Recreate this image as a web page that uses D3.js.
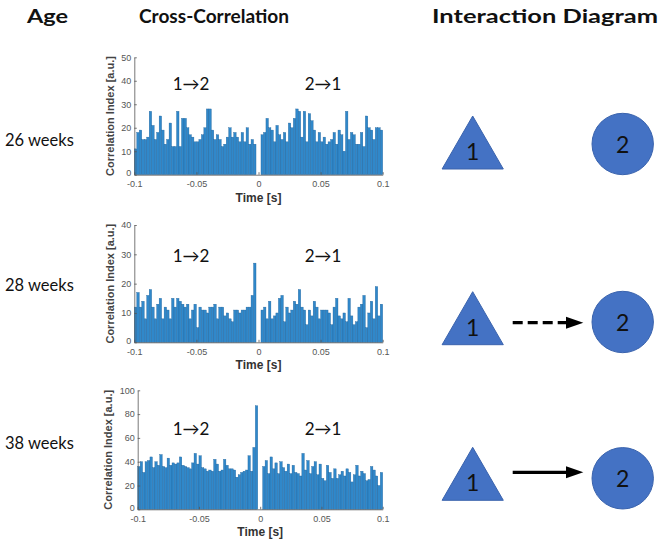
<!DOCTYPE html>
<html>
<head>
<meta charset="utf-8">
<script src="https://cdn.jsdelivr.net/npm/d3@7"></script>
<style>
  body { margin: 0; background: #fff; }
  svg { display: block; }
</style>
</head>
<body>
<div id="chart"></div>
<script>
// column headers and row labels
let headers = ["Age", "Cross-Correlation", "Interaction Diagram"];
let ages = ["26 weeks", "28 weeks", "38 weeks"];
let dirLabels = ["1\u21922", "2\u21921"];

// histogram bins: 100 bins of 2 ms from -0.1 s to 0.1 s
let binStart = -0.1;
let binWidth = 0.002;
let xTicks = [-0.1, -0.05, 0, 0.05, 0.1];
let xTickLabels = ["-0.1", "-0.05", "0", "0.05", "0.1"];

let yTicks26 = [0, 10, 20, 30, 40, 50];
let yTicks28 = [0, 10, 20, 30, 40];
let yTicks38 = [0, 20, 40, 60, 80, 100];

// correlation index per bin
let counts26 = [
  11, 18, 19, 15, 15, 16, 27, 21, 15, 18, 25, 19, 13, 15, 22, 12, 12, 27, 12, 24,
  24, 20, 17, 16, 14, 14, 15, 17, 20, 28, 28, 19, 15, 17, 15, 12, 13, 16, 20, 16,
  18, 16, 14, 18, 14, 20, 13, 15, 13, 0,
  0, 17, 18, 24, 20, 19, 14, 21, 17, 15, 18, 14, 22, 20, 24, 28, 27, 16, 27, 14,
  26, 23, 19, 14, 18, 14, 16, 13, 14, 15, 18, 13, 19, 17, 10, 27, 15, 18, 17, 13,
  13, 18, 12, 25, 20, 19, 15, 20, 20, 19
];
let counts28 = [
  12, 17, 12, 14, 8, 16, 18, 12, 8, 13, 15, 8, 12, 11, 8, 15, 12, 15, 14, 13,
  12, 13, 8, 11, 13, 5, 12, 11, 11, 10, 12, 12, 13, 8, 12, 12, 9, 10, 8, 7,
  11, 11, 10, 11, 11, 12, 12, 16, 27, 0,
  0, 11, 12, 8, 14, 8, 9, 10, 15, 16, 7, 12, 10, 11, 14, 13, 18, 12, 11, 6,
  11, 9, 14, 12, 8, 11, 11, 11, 10, 6, 12, 15, 9, 8, 10, 7, 15, 9, 6, 7,
  12, 13, 16, 5, 10, 14, 8, 19, 9, 13
];
let counts38 = [
  36, 40, 31, 40, 41, 44, 35, 40, 37, 46, 36, 35, 43, 37, 39, 38, 39, 44, 37, 36,
  35, 34, 39, 47, 38, 45, 35, 34, 32, 33, 32, 42, 38, 32, 33, 42, 37, 34, 34, 33,
  27, 29, 31, 32, 33, 45, 32, 52, 87, 0,
  0, 36, 41, 30, 44, 34, 39, 30, 40, 35, 32, 38, 30, 37, 31, 30, 28, 47, 33, 41,
  30, 36, 40, 29, 38, 26, 24, 37, 31, 26, 34, 26, 29, 32, 28, 34, 31, 23, 29, 37,
  28, 32, 30, 24, 25, 36, 33, 28, 20, 31
];

// interaction from 1 to 2: none, weak (dashed), strong (solid)
let links = ["none", "weak", "strong"];

let W = 665, H = 540;
let svg = d3.select("#chart").append("svg")
  .attr("width", W).attr("height", H);

let headFont = "Lato, 'Open Sans', sans-serif";
let axFont = "'Liberation Sans', Arial, sans-serif";

// headers (the source picture is a little stretched sideways)
let headerX = [27, 139, 432];
let headerW = [41, 150, 226];
svg.selectAll("text.header")
  .data(headers)
  .enter().append("text")
  .attr("class", "header")
  .attr("x", (d, i) => headerX[i])
  .attr("y", 23)
  .attr("font-family", headFont)
  .attr("font-weight", "bold")
  .attr("font-size", 18)
  .attr("textLength", (d, i) => headerW[i])
  .attr("lengthAdjust", "spacingAndGlyphs")
  .attr("fill", "#111")
  .text(d => d);

// panel layout (pixels)
let panels = [
  { counts: counts26, ticks: yTicks26, x0: 134.3, x1: 382.7, yTop: 57.3, yBot: 174.7, ylabX: 110,
    labelY: 90, ageY: 146, triY: 147, cy: 144, arrowY: 144 },
  { counts: counts28, ticks: yTicks28, x0: 134.3, x1: 382.7, yTop: 225, yBot: 342.3, ylabX: 110,
    labelY: 262, ageY: 291, triY: 322.7, cy: 322, arrowY: 322.7 },
  { counts: counts38, ticks: yTicks38, x0: 137.7, x1: 382.7, yTop: 390.3, yBot: 509.3, ylabX: 108,
    labelY: 435, ageY: 449, triY: 478.3, cy: 478.3, arrowY: 472.3 }
];

panels.forEach(function(p, k) {
  let yMax = p.ticks[p.ticks.length - 1];
  let x = d3.scaleLinear().domain([-0.1, 0.1]).range([p.x0, p.x1]);
  let y = d3.scaleLinear().domain([0, yMax]).range([p.yBot, p.yTop]);

  let g = svg.append("g");

  // bars
  g.selectAll("rect")
    .data(p.counts)
    .enter().append("rect")
    .attr("x", (d, i) => x(binStart + i * binWidth))
    .attr("width", (d, i) => x(binStart + (i + 1) * binWidth) - x(binStart + i * binWidth))
    .attr("y", d => y(d))
    .attr("height", d => y(0) - y(d))
    .attr("fill", "#3088ca")
    .attr("stroke", "#1f6199")
    .attr("stroke-width", 0.35);

  // axes (MATLAB style, ticks inward)
  let xa = g.append("g")
    .attr("transform", "translate(0," + p.yBot + ")")
    .call(d3.axisBottom(x).tickValues(xTicks)
      .tickFormat((d, i) => xTickLabels[i])
      .tickSizeInner(-2.5).tickSizeOuter(0).tickPadding(6));
  let ya = g.append("g")
    .attr("transform", "translate(" + p.x0 + ",0)")
    .call(d3.axisLeft(y).tickValues(p.ticks)
      .tickSizeInner(-2.5).tickSizeOuter(0).tickPadding(3));
  [xa, ya].forEach(a => {
    a.select(".domain").attr("stroke", "#555").attr("stroke-width", 0.8);
    a.selectAll(".tick line").attr("stroke", "#555").attr("stroke-width", 0.8);
    a.selectAll(".tick text")
      .attr("font-family", axFont)
      .attr("font-size", 9)
      .attr("fill", "#555");
  });
  // keep the y "0" label clear of the x "-0.1" label
  ya.selectAll(".tick text").filter(d => d === 0).attr("dy", "0.1em");

  g.append("text")
    .attr("x", (p.x0 + p.x1) / 2)
    .attr("y", p.yBot + 27)
    .attr("text-anchor", "middle")
    .attr("font-family", axFont)
    .attr("font-weight", "bold")
    .attr("font-size", 12)
    .attr("fill", "#333")
    .text("Time [s]");

  g.append("text")
    .attr("transform", "translate(" + (p.ylabX + 4) + "," + ((p.yTop + p.yBot) / 2) + ") rotate(-90)")
    .attr("text-anchor", "middle")
    .attr("font-family", axFont)
    .attr("font-weight", "bold")
    .attr("font-size", 11)
    .attr("fill", "#444")
    .text("Correlation Index [a.u.]");

  // direction labels
  g.selectAll("text.dir")
    .data(dirLabels)
    .enter().append("text")
    .attr("class", "dir")
    .attr("x", (d, i) => i === 0 ? 191 : 323)
    .attr("y", p.labelY)
    .attr("text-anchor", "middle")
    .attr("font-family", headFont)
    .attr("font-size", 17)
    .attr("fill", "#111")
    .text(d => d);

  // age label
  svg.append("text")
    .attr("x", 5)
    .attr("y", p.ageY)
    .attr("font-family", headFont)
    .attr("font-size", 16.5)
    .attr("fill", "#111")
    .text(ages[k]);

  // interaction diagram
  let d = svg.append("g");
  let tx = 472.7, ty = p.triY;
  d.append("path")
    .attr("d", "M" + tx + "," + (ty - 31) + " L" + (tx + 30.6) + "," + (ty + 22) + " L" + (tx - 30.6) + "," + (ty + 22) + " Z")
    .attr("fill", "#4472c4")
    .attr("stroke", "#3a63ad")
    .attr("stroke-width", 1);
  d.append("text")
    .attr("x", tx).attr("y", ty + 13)
    .attr("text-anchor", "middle")
    .attr("font-family", headFont)
    .attr("font-size", 23)
    .attr("fill", "#111")
    .text("1");
  d.append("circle")
    .attr("cx", 622.7).attr("cy", p.cy)
    .attr("r", 30.7)
    .attr("fill", "#4472c4")
    .attr("stroke", "#3a63ad")
    .attr("stroke-width", 1);
  d.append("text")
    .attr("x", 622.7).attr("y", p.cy + 9)
    .attr("text-anchor", "middle")
    .attr("font-family", headFont)
    .attr("font-size", 23)
    .attr("fill", "#111")
    .text("2");

  if (links[k] !== "none") {
    let ay = p.arrowY;
    d.append("line")
      .attr("x1", 512.7).attr("x2", 568)
      .attr("y1", ay).attr("y2", ay)
      .attr("stroke", "#000")
      .attr("stroke-width", 3.2)
      .attr("stroke-dasharray", links[k] === "weak" ? "10,5" : null);
    d.append("path")
      .attr("d", "M583.3," + ay + " L566," + (ay - 6) + " L566," + (ay + 6) + " Z")
      .attr("fill", "#000");
  }
});
</script>
</body>
</html>
